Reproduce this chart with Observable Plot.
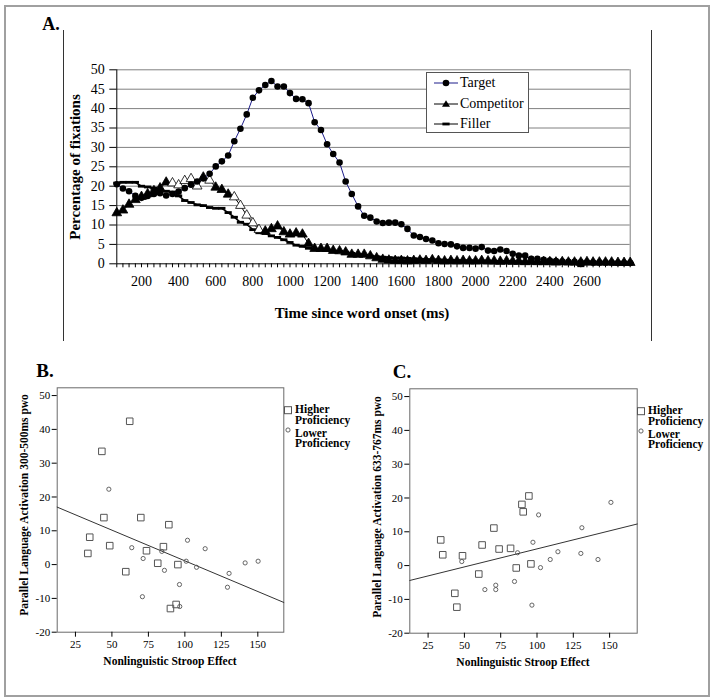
<!DOCTYPE html>
<html><head><meta charset="utf-8">
<script src="https://cdn.jsdelivr.net/npm/d3@7"></script>
<script src="https://cdn.jsdelivr.net/npm/@observablehq/plot@0.6"></script>
<style>
body{margin:0;background:#fff;}
#fig{position:relative;width:714px;height:700px;font-family:"Liberation Serif","Times New Roman",serif;color:#000;overflow:hidden;}
.t{position:absolute;white-space:nowrap;line-height:1;}
</style></head><body><div id="fig"></div>
<script>
// ---------- Panel A data ----------
const times = [67,100,133,167,200,233,267,300,333,367,400,433,467,500,533,567,600,633,667,700,733,767,800,833,867,900,933,967,1000,1033,1067,1100,1133,1167,1200,1233,1267,1300,1333,1367,1400,1433,1467,1500,1533,1567,1600,1633,1667,1700,1733,1767,1800,1833,1867,1900,1933,1967,2000,2033,2067,2100,2133,2167,2200,2233,2267,2300,2333,2367,2400,2433,2467,2500,2533,2567,2600,2633,2667,2700,2733,2767,2800,2833];
const target = [20.5,19.4,18.7,17.5,17.0, 17.5,18.0,18.2,17.6,18.0, 18.6,19.5,20.4,21.2,22.0, 23.2,25.1,26.4,27.9,31.6, 34.8,38.5,42.8,44.7,46.1, 47.1,45.7,45.7,44.0,42.5, 42.4,41.4,36.5,34.5,30.8, 28.3,26.1,21.2,18.0,14.8, 12.4,11.9,10.9,10.5,10.6, 10.6,10.2,9.0,7.3,6.9, 6.4,6.0,5.3,5.1,5.0, 4.5,4.1,4.1,3.9,4.3, 3.4,3.3,3.7,3.3,2.6, 2.1,2.1,1.3,1.3,1.0, 0.85,0.7,0.6,0.5,0.5, 0.4,0.4,0.3,0.3,0.3, 0.3,0.2,0.2,0.2];
const competitor = [13.1,13.8,15.3,16.5,17.3, 18.0,18.8,19.5,21.0,20.8, 20.3,21.4,21.9,20.0,22.3, 21.5,19.7,19.1,17.9,17.2, 15.0,12.5,10.5,8.8,8.4, 9.0,9.7,8.2,7.6,7.9, 7.6,5.2,3.9,3.9,3.9, 3.4,3.3,3.0,2.4,2.4, 2.4,2.0,1.5,1.1,0.9, 0.8,0.8,0.7,0.8,0.9, 0.8,1.0,0.8,0.7,0.8, 0.7,0.8,0.7,0.7,0.8, 0.7,0.7,0.6,0.7,0.6, 0.6,0.5,0.6,0.5,0.5, 0.5,0.4,0.5,0.4,0.4, 0.4,0.5,0.4,0.4,0.4, 0.4,0.3,0.3,0.3];
const competitorOpen = [9,10,11,12,13,15,19,20,21,22,23];
const filler = [20.8,21.0,21.0,21.0,20.0, 19.8,19.5,19.0,18.7,18.5, 17.5,16.3,15.8,15.2,15.0, 14.5,14.3,14.3,13.2,12.0, 10.7,10.2,8.8,8.0,7.8, 7.2,6.8,6.2,5.5,4.8, 4.5,4.0,3.7,3.5,3.4, 3.3,3.2,3.0,2.7,2.4, 2.2,2.0,1.8,1.7,1.6, 1.5,1.5,1.4,1.3,1.2, 1.1,1.0,1.0,0.9,0.9, 0.8,0.8,0.8,0.7,0.7, 0.7,0.6,0.6,0.6,0.5, 0.5,0.5,0.4,0.4,0.4, 0.3,0.3,0.2,0.1,0.0, -0.5,0.0,0.1,0.1,0.1, 0.1,0.1,0.1,0.1];
const xTicksA = [200,400,600,800,1000,1200,1400,1600,1800,2000,2200,2400,2600];
const yTicksA = [0,5,10,15,20,25,30,35,40,45,50];
const seriesNames = ["Target","Competitor","Filler"];

// ---------- Panel B data ----------
const bHighX = [62.2,43.1,44.5,69.8,89.0,34.8,48.5,33.5,73.7,85.3,81.4,95.2,59.5,94.0,90.1];
const bHighY = [42.4,33.5,13.9,13.9,11.8,8.1,5.6,3.3,4.1,5.3,0.4,0.0,-2.1,-11.8,-13.0];
const bLowX = [47.9,63.6,71.4,70.9,84.2,86.0,96.3,96.5,101.8,100.9,108.0,113.9,130.3,129.2,141.3,150.2];
const bLowY = [22.3,5.0,1.8,-9.5,3.9,-1.7,-5.9,-12.4,7.2,1.0,-0.8,4.7,-2.6,-6.7,0.5,1.0];
const bFitX = [12.5,167.8];
const bFitY = [17.0,-11.2];

// ---------- Panel C data ----------
const cHighX = [33.7,35.1,48.7,43.4,44.8,62.2,59.9,70.3,73.9,81.8,85.7,89.6,90.5,94.4,95.8];
const cHighY = [7.6,3.2,2.9,-8.2,-12.3,6.1,-2.5,11.1,4.9,5.1,-0.7,18.1,15.9,20.6,0.5];
const cLowX = [48.2,64.1,71.6,71.6,84.5,86.6,97.2,101.1,102.4,109.1,114.4,96.5,130.2,130.9,142.0,150.9];
const cLowY = [1.2,-7.1,-5.8,-7.1,-4.7,3.8,6.9,15.0,-0.6,1.8,4.1,-11.7,3.6,11.2,1.8,18.7];
const cFitX = [12.4,169.0];
const cFitY = [-4.4,12.3];

const xTicksBC = [25,50,75,100,125,150];
const yTicksBC = [-20,-10,0,10,20,30,40,50];
const groupNames = ["Higher\nProficiency","Lower\nProficiency"];

// ---------- helpers ----------
const fig = document.getElementById("fig");
const FONT = '"Liberation Serif","Times New Roman",serif';
const plain = d => String(d);
function put(el, x, y){ el.style.position="absolute"; el.style.left=x+"px"; el.style.top=y+"px"; fig.appendChild(el); return el; }
function text(str, x, y, o={}){
  const d=document.createElement("div"); d.className="t"; d.textContent=str;
  d.style.fontSize=(o.size||14)+"px"; d.style.fontWeight=o.bold?"bold":"normal";
  if(o.lh){d.style.whiteSpace="pre"; d.style.lineHeight=o.lh;}
  const ax=o.anchor||"middle";
  d.style.transform = ax==="start"?"translate(0,-50%)":ax==="end"?"translate(-100%,-50%)":"translate(-50%,-50%)";
  if(o.rotate){d.style.transform=`translate(-50%,-50%) rotate(${o.rotate}deg)`; d.style.transformOrigin="50% 50%";}
  return put(d,x,y);
}
function box(x,y,w,h,css){ const d=document.createElement("div"); d.style.width=w+"px"; d.style.height=h+"px"; d.style.boxSizing="border-box"; Object.assign(d.style,css); return put(d,x,y); }

// outer border
box(4,5,706,692,{border:"2px solid #a0a0a0"});
// panel A box (side edges only)
box(63,30,589,311,{borderLeft:"1px solid #333",borderRight:"1px solid #333"});
text("A.",51,24,{size:18,bold:true});

// ---------- Panel A ----------
const rowsA = times.map((t,i)=>({t, target:target[i], comp:competitor[i], filler:filler[i], open:competitorOpen.includes(i)}));
const dash = {draw(ctx){ const w=3.6,h=1.4; ctx.moveTo(-w,-h); ctx.lineTo(w,-h); ctx.lineTo(w,h); ctx.lineTo(-w,h); ctx.closePath(); }};
const svgA = Plot.plot({
  width:589, height:313,
  marginLeft:53.3, marginRight:22.3, marginTop:39.3, marginBottom:79.7,
  style:{fontFamily:FONT, fontSize:"14px", color:"#000", background:"transparent", overflow:"visible"},
  x:{type:"linear", domain:[67,2833]},
  y:{domain:[0,50]},
  marks:[
    Plot.ruleY(yTicksA.filter(v=>v>0), {stroke:"#808080", strokeWidth:1}),
    Plot.ruleX([2833], {stroke:"#808080"}),
    Plot.axisY({ticks:yTicksA, tickSize:7, tickPadding:5, tickFormat:plain, label:null, fontSize:14}),
    Plot.axisX({ticks:times, tickSize:4, tickFormat:()=>"", label:null}),
    Plot.axisX({ticks:xTicksA, tickSize:0, tickPadding:12, tickFormat:plain, label:null, fontSize:14}),
    Plot.ruleX([67], {stroke:"#000"}),
    Plot.ruleY([0], {stroke:"#000"}),
    Plot.line(rowsA, {x:"t", y:"filler", stroke:"#000", strokeWidth:1.6}),
    Plot.dot(rowsA, {x:"t", y:"filler", symbol:dash, fill:"#000", r:3}),
    Plot.line(rowsA, {x:"t", y:"comp", stroke:"#000", strokeWidth:1}),
    Plot.dot(rowsA, {x:"t", y:"comp", symbol:"triangle", r:3.6, fill:d=>d.open?"#fff":"#000", stroke:"#000", strokeWidth:0.8}),
    Plot.line(rowsA, {x:"t", y:"target", stroke:"#1c1c8a", strokeWidth:1}),
    Plot.dot(rowsA, {x:"t", y:"target", r:3.3, fill:"#000"})
  ]
});
svgA.style.position="absolute"; svgA.style.left="63px"; svgA.style.top="30px";
fig.appendChild(svgA);
text("Percentage of fixations",75,167,{size:15,bold:true,rotate:-90});
text("Time since word onset (ms)",362,313,{size:15,bold:true});

// legend A
const lg = box(426,72,103,61,{border:"1px solid #555",background:"#fff"});
lg.innerHTML = `<svg width="101" height="59" style="position:absolute;left:0;top:0">
 <line x1="7" x2="31" y1="10" y2="10" stroke="#1c1c8a"/><circle cx="19" cy="10" r="3.3" fill="#000"/>
 <line x1="7" x2="31" y1="31" y2="31" stroke="#000"/><path d="M19,27.2 L23,33.8 L15,33.8Z" fill="#000"/>
 <line x1="7" x2="31" y1="51" y2="51" stroke="#000"/><rect x="15.4" y="49.6" width="7.2" height="2.8" fill="#000"/>
</svg>`;
seriesNames.forEach((n,i)=>{ const d=document.createElement("div"); d.className="t"; d.textContent=n; d.style.fontSize="14px"; d.style.left="33px"; d.style.top=([10,31,51][i]-7)+"px"; lg.appendChild(d); });

// ---------- Panels B & C ----------
function scatter(hx,hy,lx,ly,fx,fy,xdom,ml,mr,mt,mb){
  const high = hx.map((x,i)=>({x, y:hy[i]}));
  const low = lx.map((x,i)=>({x, y:ly[i]}));
  const fit = fx.map((x,i)=>({x, y:fy[i]}));
  return Plot.plot({
    width:300, height:300, marginLeft:ml, marginRight:mr, marginTop:mt, marginBottom:mb,
    style:{fontFamily:FONT, fontSize:"11px", color:"#000", background:"transparent", overflow:"visible"},
    x:{domain:xdom}, y:{domain:[-20,52.3]},
    marks:[
      Plot.frame({stroke:"#6a6a6a"}),
      Plot.axisY({ticks:yTicksBC, tickSize:5, tickPadding:2, tickFormat:plain, label:null, fontSize:11}),
      Plot.axisX({ticks:xTicksBC, tickSize:5, tickPadding:3, tickFormat:plain, label:null, fontSize:11}),
      Plot.line(fit, {x:"x", y:"y", stroke:"#333", strokeWidth:1}),
      Plot.dot(high, {x:"x", y:"y", symbol:"square", r:3.7, stroke:"#555", fill:"none", strokeWidth:1}),
      Plot.dot(low, {x:"x", y:"y", r:2.1, stroke:"#555", fill:"none", strokeWidth:0.9})
    ]
  });
}
const svgB = scatter(bHighX,bHighY,bLowX,bLowY,bFitX,bFitY,[12.5,167.8],56.7,16.7,7.3,48.3);
svgB.style.position="absolute"; svgB.style.left="0px"; svgB.style.top="380px"; fig.appendChild(svgB);
const svgC = scatter(cHighX,cHighY,cLowX,cLowY,cFitX,cFitY,[12.4,169.0],54.3,18.3,8.3,47.3);
svgC.style.position="absolute"; svgC.style.left="355px"; svgC.style.top="380px"; fig.appendChild(svgC);

text("B.",45,370,{size:19,bold:true});
text("C.",402,371,{size:19,bold:true});
text("Parallel Language Activation 300-500ms pwo",25,505,{size:11.5,bold:true,rotate:-90});
text("Parallel Language Activation 633-767ms pwo",378,507,{size:11.5,bold:true,rotate:-90});
text("Nonlinguistic Stroop Effect",170,662,{size:11.5,bold:true});
text("Nonlinguistic Stroop Effect",523,663,{size:11.5,bold:true});

function legendBC(x0,y0){
  const s=document.createElementNS("http://www.w3.org/2000/svg","svg");
  s.setAttribute("width","12"); s.setAttribute("height","34");
  s.innerHTML=`<rect x="1.5" y="0.7" width="7" height="7" fill="none" stroke="#555"/><circle cx="5" cy="24" r="2.1" fill="none" stroke="#555" stroke-width="0.9"/>`;
  put(s,x0-5,y0-4);
  groupNames.forEach((g,i)=>{ text(g,x0+7,y0+5+i*23.5,{size:11.5,bold:true,anchor:"start",lh:"0.95"}); });
}
legendBC(288,410);
legendBC(641,411);
</script></body></html>
